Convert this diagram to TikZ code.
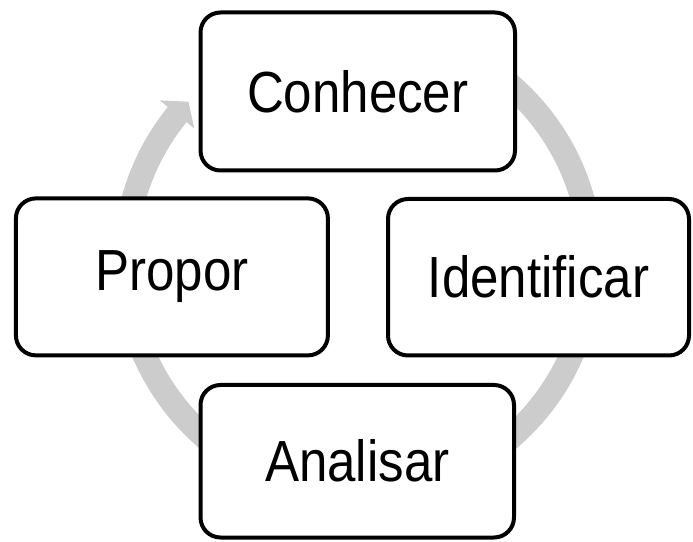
\documentclass[tikz,border=0pt]{standalone}
\usepackage{fontspec}
\setmainfont[FakeStretch=0.88]{Liberation Sans}
\usetikzlibrary{calc}
\definecolor{arcgray}{RGB}{204,204,204}
\begin{document}
\begin{tikzpicture}[x=1pt,y=1pt,
  box/.style={draw=black, line width=4pt, fill=white, rounded corners=20pt,
    inner sep=0pt, font=\fontsize{58}{60}\selectfont},
  cyclearc/.style={draw=arcgray, line width=24pt},
  cyclehead/.style={fill=arcgray}]
\useasboundingbox (0,0) rectangle (693,541);
\coordinate (ctr) at (358,279.5);
% circular arrow
\draw[cyclearc] ($(ctr)+(80:233)$) arc[start angle=80, end angle=-219.3, radius=233];
\fill[cyclehead] ($(ctr)+(140.9:255.5)$) -- ($(ctr)+(136.7:233)$) -- ($(ctr)+(140.9:211)$) -- cycle;
% boxes
\node[box, minimum width=314.5pt, minimum height=158pt] (con) at (357.75,449.5) {Conhecer};
\node[box, minimum width=312pt, minimum height=157pt] (pro) at (171.9,264.1) {Propor};
\node[box, minimum width=301pt, minimum height=156.5pt] (ide) at (538.5,263.75) {Identificar};
\node[box, minimum width=313.5pt, minimum height=152.5pt] (ana) at (357.25,79.75) {Analisar};
\end{tikzpicture}
\end{document}
